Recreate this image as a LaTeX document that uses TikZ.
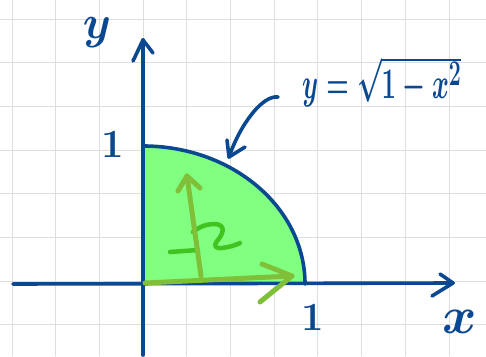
\documentclass[tikz,border=0pt]{standalone}
\usepackage{xcolor}
\usepackage{graphicx}
\definecolor{pen}{RGB}{10,72,145}
\definecolor{gridc}{RGB}{222,222,222}
\definecolor{areafill}{RGB}{128,255,128}
\definecolor{arrowgreen}{RGB}{128,192,56}
\definecolor{omegagreen}{RGB}{64,196,32}
\begin{document}
\begin{tikzpicture}[x=1pt,y=-1pt,line cap=round,line join=round,
  gridline/.style={draw=gridc,line width=1pt},
  axisline/.style={draw=pen,line width=3.6pt},
  greenpen/.style={draw=arrowgreen,line width=5pt},
  omegapen/.style={draw=omegagreen,line width=4.5pt},
  lbl/.style={text=pen,inner sep=0pt,font=\fontsize{24.88}{26}\selectfont\boldmath},
  onelbl/.style={text=pen,inner sep=0pt,font=\fontsize{40}{40}\selectfont\bfseries}]
\useasboundingbox (0,0) rectangle (486,356);
\fill[white] (0,0) rectangle (486,356);
% grid
\foreach \gx in {12,55.7,99.4,143.1,186.8,230.5,274.2,317.9,361.6,405.3,449}
  \draw[gridline] (\gx,0) -- (\gx,356);
\foreach \gy in {19,62.7,106.4,150.1,193.8,237.5,281.2,324.9}
  \draw[gridline] (0,\gy) -- (486,\gy);
% key points
\coordinate (O) at (143,284);
\coordinate (top) at (143,146);
\coordinate (right) at (305,284);
\coordinate (ybot) at (143,355);
\coordinate (ytip) at (143,40);
\coordinate (yarmL) at (133,61);
\coordinate (yarmR) at (153,53);
\coordinate (xleft) at (13,284);
\coordinate (xtip) at (453,283);
\coordinate (xarmU) at (440,274);
\coordinate (xarmD) at (432,296);
% area
\fill[areafill] (O) -- (top) arc[start angle=90,end angle=0,x radius=162pt,y radius=138pt] -- cycle;
% axes
\draw[axisline] (ybot) -- (ytip);
\draw[axisline] (yarmL) -- (ytip) -- (yarmR);
\draw[axisline] (xleft) -- (xtip);
\draw[axisline] (xarmU) -- (xtip) -- (xarmD);
% curve
\draw[axisline] (top) arc[start angle=90,end angle=0,x radius=162pt,y radius=138pt];
% pointer arrow
\coordinate (pstart) at (278,97);
\coordinate (ptip) at (229,157);
\coordinate (parmL) at (227,140);
\coordinate (parmR) at (245,147);
\draw[axisline] (pstart) .. controls (262,95) and (240,125) .. (ptip);
\draw[axisline] (parmL) -- (ptip) -- (parmR);
% omega-like mark
\coordinate (o1) at (170,252);
\coordinate (o2) at (198,250);
\draw[omegapen] (o1) -- (o2);
\draw[omegapen] (193,232) .. controls (200,226) and (208,224) .. (214,224)
  .. controls (228,224) and (222,236) .. (217,241)
  .. controls (213,246) and (216,249) .. (222,248)
  .. controls (230,247) and (236,245) .. (240,243);
% green arrows
\coordinate (hstart) at (145,283);
\coordinate (htip) at (292,276);
\coordinate (harmU) at (262,264);
\coordinate (harmD) at (260,302);
\draw[greenpen] (hstart) -- (htip);
\draw[greenpen] (harmU) -- (htip) -- (harmD);
\coordinate (vstart) at (201,276);
\coordinate (vtip) at (187,176);
\coordinate (varmL) at (178,191);
\coordinate (varmR) at (200,188);
\draw[greenpen] (vstart) -- (vtip);
\draw[greenpen] (varmL) -- (vtip) -- (varmR);
% labels
\node[lbl] (ylab) at (97,33) {\scalebox{1.8}[1.9]{$y$}};
\node[lbl] (xlab) at (460,322) {\scalebox{2.1}{$x$}};
\node[onelbl] (one y) at (113,144) {1};
\node[onelbl] (one x) at (313,317) {1};
\node[lbl,anchor=base west] (formula) at (302,98) {\scalebox{1.03}[1.75]{$y=\sqrt{1-x^2}$}};
\end{tikzpicture}
\end{document}
